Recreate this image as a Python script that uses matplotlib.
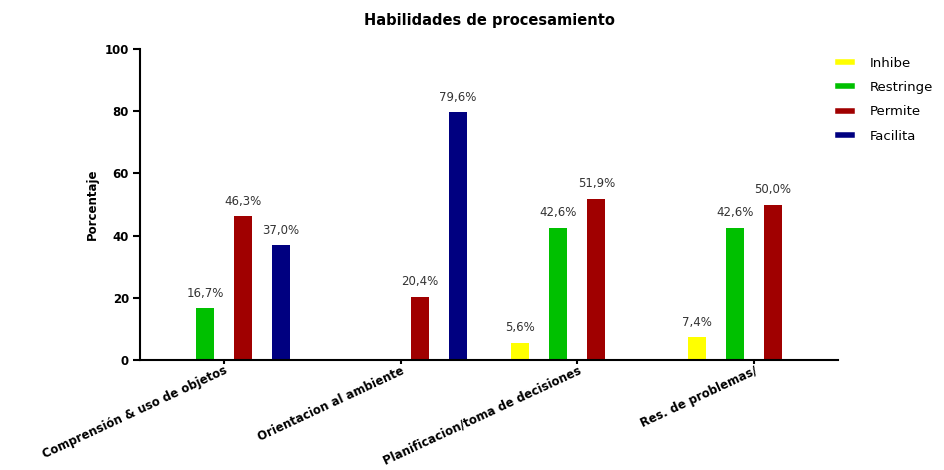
import numpy as np
import matplotlib
matplotlib.use("Agg")
import matplotlib.pyplot as plt
from matplotlib.lines import Line2D

plt.rcParams['font.family'] = ['DejaVu Sans']

categories = ["Comprensión & uso de objetos", "Orientacion al ambiente",
              "Planificacion/toma de decisiones", "Res. de problemas/"]
series_names = ["Inhibe", "Restringe", "Permite", "Facilita"]
inhibe = [np.nan, np.nan, 5.6, 7.4]
restringe = [16.7, np.nan, 42.6, 42.6]
permite = [46.3, 20.4, 51.9, 50.0]
facilita = [37.0, 79.6, np.nan, np.nan]
colors = ["#FFFF00", "#00C000", "#A00000", "#000080"]
yticks = [0, 20, 40, 60, 80, 100]

fig = plt.figure(figsize=(9.45, 4.70), dpi=100)
ax = fig.add_axes([140/945, 1-360/470, (838-140)/945, (360-49)/470])

x = np.arange(len(categories))
slot = 38/177
width = 18/177
all_series = [inhibe, restringe, permite, facilita]
for i, (vals, c) in enumerate(zip(all_series, colors)):
    offs = (i - 1.5) * slot
    for xi, v in zip(x, vals):
        if np.isnan(v):
            continue
        ax.bar(xi + offs, v, width=width, color=c, edgecolor='none')
        ax.annotate(f"{v:.1f}%".replace('.', ','), (xi + offs, v),
                    xytext=(0, 6), textcoords='offset points',
                    ha='center', va='bottom', fontsize=8.5, color='#333333')

ax.set_xlim(-0.475, 3.475)
ax.set_ylim(0, 100)
ax.set_yticks(yticks)
ax.set_yticklabels([str(t) for t in yticks], fontsize=8.5, fontweight='bold')
ax.set_xticks(x)
ax.set_xticklabels(categories, rotation=25, ha='right', rotation_mode='anchor',
                   fontsize=8.5, fontweight='bold')
ax.tick_params(axis='x', length=3, width=1.5, pad=0)
ax.tick_params(axis='y', length=5, width=1.5, pad=3)
for s in ['top', 'right']:
    ax.spines[s].set_visible(False)
for s in ['left', 'bottom']:
    ax.spines[s].set_linewidth(1.5)
ax.set_ylabel("Porcentaje", fontsize=8.5, fontweight='bold', labelpad=4)
fig.text(489/945, 1-20/470, "Habilidades de procesamiento", ha='center', va='center',
         fontsize=10.5, fontweight='bold')

handles = [Line2D([0], [0], color=c, lw=4) for c in colors]
fig.legend(handles, series_names, loc='upper left', bbox_to_anchor=(826/945, 1-45/470),
           frameon=False, fontsize=9.5, handlelength=1.1, handletextpad=1.3,
           labelspacing=0.85)

fig.savefig("out.png", dpi=100)
